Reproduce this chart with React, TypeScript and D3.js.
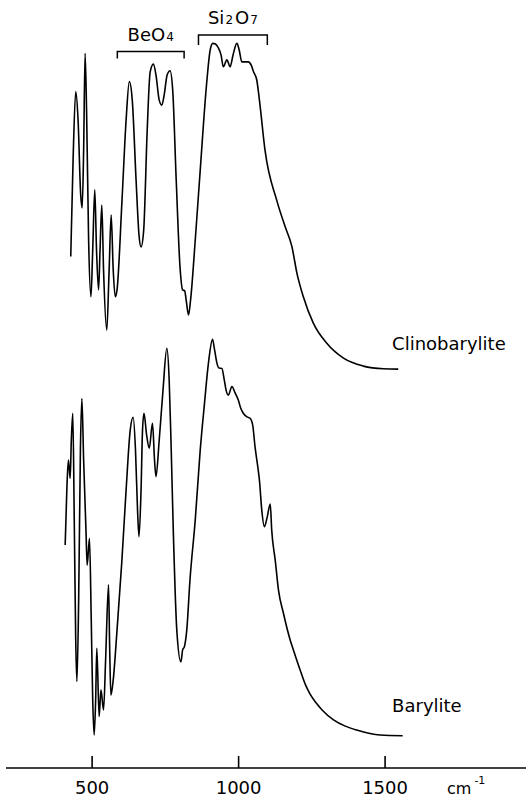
import React from "react";
import * as d3 from "d3";

// Clinobarylite IR spectrum: wavenumber (cm-1) and relative absorbance
const clinoWavenumber = [
  427, 435, 444, 452, 461, 466, 471, 476, 481, 488, 496, 502, 509, 515, 522, 527,
  533, 539, 550, 558, 565, 572, 579, 585, 602, 616, 627, 637, 650, 660, 667, 676,
  688, 698, 709, 718, 729, 738, 746, 756, 766, 775, 787, 800, 809, 816, 821, 829,
  836, 852, 869, 891, 903, 912, 921, 931, 940, 948, 960, 971, 981, 994, 1002, 1011,
  1022, 1033, 1043, 1051, 1062, 1073, 1090, 1130, 1159, 1182, 1199, 1221, 1255, 1301,
  1358, 1426, 1494, 1545,
];
const clinoAbsorbance = [
  0.345, 0.638, 0.845, 0.759, 0.532, 0.492, 0.668, 0.961, 0.789, 0.395, 0.223, 0.365,
  0.547, 0.365, 0.244, 0.365, 0.501, 0.304, 0.122, 0.304, 0.471, 0.304, 0.223, 0.244,
  0.516, 0.759, 0.875, 0.819, 0.577, 0.41, 0.374, 0.425, 0.728, 0.904, 0.928, 0.895,
  0.819, 0.804, 0.835, 0.895, 0.908, 0.85, 0.577, 0.313, 0.244, 0.241, 0.213, 0.168,
  0.213, 0.395, 0.607, 0.871, 0.971, 0.991, 0.989, 0.977, 0.956, 0.92, 0.941, 0.92,
  0.956, 0.991, 0.971, 0.935, 0.935, 0.935, 0.925, 0.905, 0.88, 0.804, 0.668, 0.516,
  0.435, 0.375, 0.295, 0.223, 0.143, 0.082, 0.037, 0.013, 0.005, 0.004,
];

// Barylite IR spectrum
const baryWavenumber = [
  408, 414, 419, 425, 429, 434, 439, 444, 448, 454, 460, 465, 471, 479, 483, 491,
  497, 502, 507, 512, 516, 524, 530, 539, 546, 556, 560, 564, 572, 585, 601, 616,
  630, 640, 648, 655, 660, 667, 672, 677, 686, 695, 706, 713, 718, 729, 742, 755,
  763, 770, 777, 789, 803, 809, 815, 823, 834, 852, 869, 883, 897, 911, 918, 926,
  933, 943, 951, 957, 965, 977, 988, 999, 1007, 1016, 1029, 1039, 1048, 1056, 1067,
  1071, 1079, 1088, 1097, 1108, 1113, 1125, 1136, 1153, 1176, 1187, 1210, 1227, 1244,
  1265, 1285, 1324, 1364, 1403, 1483, 1560,
];
const baryAbsorbance = [
  0.591, 0.768, 0.848, 0.793, 0.909, 0.99, 0.667, 0.303, 0.177, 0.424, 0.879, 1.035,
  0.848, 0.636, 0.53, 0.611, 0.364, 0.121, 0.015, 0.121, 0.278, 0.071, 0.152, 0.091,
  0.242, 0.47, 0.273, 0.136, 0.182, 0.333, 0.536, 0.758, 0.939, 0.978, 0.879, 0.697,
  0.616, 0.758, 0.939, 0.99, 0.924, 0.884, 0.96, 0.848, 0.798, 0.909, 1.061, 1.187,
  1.091, 0.879, 0.636, 0.333, 0.237, 0.273, 0.283, 0.333, 0.485, 0.667, 0.879, 1.015,
  1.142, 1.214, 1.182, 1.142, 1.127, 1.126, 1.091, 1.061, 1.045, 1.071, 1.052, 1.03,
  1.006, 0.99, 0.979, 0.975, 0.955, 0.889, 0.818, 0.788, 0.697, 0.646, 0.673, 0.715,
  0.636, 0.545, 0.455, 0.384, 0.303, 0.273, 0.212, 0.17, 0.139, 0.112, 0.091, 0.061,
  0.042, 0.03, 0.015, 0.013,
];

const seriesNames = ["Clinobarylite", "Barylite"];
const seriesOffsets = [1.12, 0];
const labelWavenumber = 1524;
const labelLevels = [1.182, 0.086];

const tickValues = [500, 1000, 1500];
const unitLabel = "cm";
const unitSup = "-1";

// group bands: text pieces (with subscript flag), range in cm-1, level in absorbance units
const bandGroups = [
  { parts: [["BeO", false], ["4", true]], from: 586, to: 814, level: 2.086 },
  { parts: [["Si", false], ["2", true], ["O", false], ["7", true]], from: 863, to: 1098, level: 2.136 },
];

const W = 526;
const H = 802;
const FONT = "'DejaVu Sans', Verdana, sans-serif";

export default function App() {
  const x = d3.scaleLinear().domain([206, 1981]).range([6, 526]);
  const y = d3.scaleLinear().domain([-0.1, 2.2]).range([773, 14]);
  const axisY = y(-0.085);

  const series = [
    { w: clinoWavenumber, a: clinoAbsorbance },
    { w: baryWavenumber, a: baryAbsorbance },
  ];

  const line = (offset: number) =>
    d3
      .line<[number, number]>()
      .x((d) => x(d[0]))
      .y((d) => y(d[1] + offset))
      .curve(d3.curveMonotoneX);

  return (
    <svg
      width={W}
      height={H}
      style={{ position: "absolute", left: 0, top: 0, background: "#fff" }}
      fontFamily={FONT}
    >
      {series.map((s, i) => {
        const pts: [number, number][] = s.w.map((w, j) => [w, s.a[j]]);
        return (
          <path
            key={i}
            d={line(seriesOffsets[i])(pts) || ""}
            fill="none"
            stroke="#000"
            strokeWidth={1.6}
            strokeLinejoin="round"
          />
        );
      })}

      {seriesNames.map((n, i) => (
        <text key={n} x={x(labelWavenumber)} y={y(labelLevels[i])} fontSize={18} fill="#000">
          {n}
        </text>
      ))}

      {bandGroups.map((g, i) => {
        const yy = y(g.level);
        const depth = i === 0 ? 7 : 10;
        const cx = (x(g.from) + x(g.to)) / 2;
        return (
          <g key={i}>
            <path
              d={`M${x(g.from)},${yy + depth}V${yy}H${x(g.to)}V${yy + depth}`}
              fill="none"
              stroke="#000"
              strokeWidth={1.5}
            />
            <text x={cx} y={yy - 11} fontSize={18} textAnchor="middle" fill="#000">
              {g.parts.map(([t, sub], k) =>
                sub ? (
                  <tspan key={k} fontSize={12} dx={1}>
                    {t as string}
                  </tspan>
                ) : (
                  <tspan key={k} dx={k === 0 ? 0 : 2}>
                    {t as string}
                  </tspan>
                )
              )}
            </text>
          </g>
        );
      })}

      <g>
        <line x1={x(206)} x2={x(1981)} y1={axisY} y2={axisY} stroke="#000" strokeWidth={1.6} />
        {tickValues.map((t) => (
          <g key={t}>
            <line x1={x(t)} x2={x(t)} y1={axisY} y2={axisY - 12} stroke="#000" strokeWidth={1.6} />
            <text x={x(t)} y={axisY + 26} fontSize={18} textAnchor="middle" fill="#000">
              {t}
            </text>
          </g>
        ))}
        <text x={447} y={axisY + 26} fontSize={16} fill="#000">
          {unitLabel}
          <tspan fontSize={11} dy={-10} dx={3}>
            {unitSup}
          </tspan>
        </text>
      </g>
    </svg>
  );
}
